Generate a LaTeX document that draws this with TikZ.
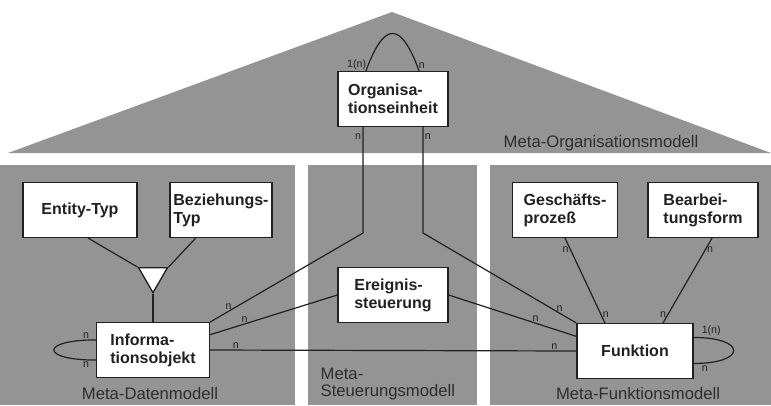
\documentclass[tikz,border=0pt]{standalone}
\usepackage{fontspec}
\setmainfont{Liberation Sans}
\usetikzlibrary{positioning, shapes.geometric}
\definecolor{metagrau}{gray}{0.58}
\definecolor{strich}{gray}{0.13}

\begin{document}
\begin{tikzpicture}[x=0.75pt,y=-0.75pt,node distance=2cm,on grid,
  box/.style={draw=strich,fill=white,line width=1pt,minimum height=41pt,
    align=left,inner xsep=2pt,text=strich,
    font=\bfseries\fontsize{12}{13.5}\selectfont},
  tri/.style={regular polygon,regular polygon sides=3,shape border rotate=180,
    draw=strich,fill=white,line width=1pt,minimum size=25pt,inner sep=0pt},
  card/.style={font=\fontsize{8}{9}\selectfont,text=strich,inner sep=1pt},
  modell/.style={font=\fontsize{12.5}{13}\selectfont,text=black!82,align=left},
  verb/.style={draw=strich,line width=0.9pt}]
  \useasboundingbox (0,0) rectangle (771,405);

  % Dach und Saeulen
  \fill[metagrau] (8,153) -- (392,12) -- (771,153) -- cycle;
  \fill[metagrau] (0,165) rectangle (295,405);
  \fill[metagrau] (308,165) rectangle (477,405);
  \fill[metagrau] (490,165) rectangle (771,405);

  % Objekte
  \node[box,minimum width=82.5pt] (org) at (393,99) {Organisa-\\tionseinheit};
  \node[box,minimum width=85.5pt] (ent) at (80,210) {Entity-Typ};
  \node[box,minimum width=76.5pt] (bez) [right=105.75pt of ent] {Beziehungs-\\Typ};
  \node[tri] (gen) at (153,276) {};
  \node[box,minimum width=84.75pt] (info) at (153,350) {Informa-\\tionsobjekt};
  \node[box,minimum width=82.5pt] (ereig) at (393,295) {Ereignis-\\steuerung};
  \node[box,minimum width=78.75pt] (gesch) at (565,210) {Geschäfts-\\prozeß};
  \node[box,minimum width=82.5pt] (bearb) [right=103.5pt of gesch] {Bearbei-\\tungsform};
  \node[box,minimum width=87pt] (funk) at (635,351) {Funktion};

  \coordinate (knickL) at (363,233);
  \coordinate (knickR) at (423,233);

  % Sichten
  \node[modell] (mOrg) at (601,143) {Meta-Organisationsmodell};
  \node[modell] (mDat) at (150,394) {Meta-Datenmodell};
  \node[modell,anchor=west] (mSteu) at (316,384) {Meta-\\Steuerungsmodell};
  \node[modell] (mFkt) at (638,394) {Meta-Funktionsmodell};

  % Beziehungen
  \path[verb]
    (org.134) edge[out=70,in=110,distance=40pt]
        node[card,pos=0.04,left] {1(n)} node[card,pos=0.96,right] {n} (org.47)
    (ent.-74) edge (gen.corner 3)
    (bez.-132) edge (gen.corner 2)
    (gen.corner 1) edge (info.north)
    (info.170) edge[out=180,in=180,distance=42pt]
        node[card,pos=0.03,above left] {n} node[card,pos=0.97,below left] {n} (info.190)
    (info.15) edge node[card,pos=0.27,above] {n} (ereig.west)
    (info.east) edge node[card,pos=0.07,above] {n}
        node[card,pos=0.94,above] {n} (funk.west)
    (ereig.east) edge node[card,pos=0.68,above] {n} (funk.166)
    (gesch.south) edge node[card,pos=0.14,left] {n}
        node[card,pos=0.9,right] {n} (funk.137)
    (bearb.-72) edge node[card,pos=0.14,right] {n}
        node[card,pos=0.9,left] {n} (funk.45)
    (funk.13) edge[out=0,in=0,distance=40pt]
        node[card,pos=0.04,above right] {1(n)} node[card,pos=0.96,below right] {n} (funk.-12);

  \draw[verb] (org.south -| knickL) -- node[card,pos=0.09,left] {n} (knickL)
    -- node[card,pos=0.88,above] {n} (info.north east);
  \draw[verb] (org.south -| knickR) -- node[card,pos=0.09,right] {n} (knickR)
    -- node[card,pos=0.89,above] {n} (funk.north west);
\end{tikzpicture}
\end{document}
